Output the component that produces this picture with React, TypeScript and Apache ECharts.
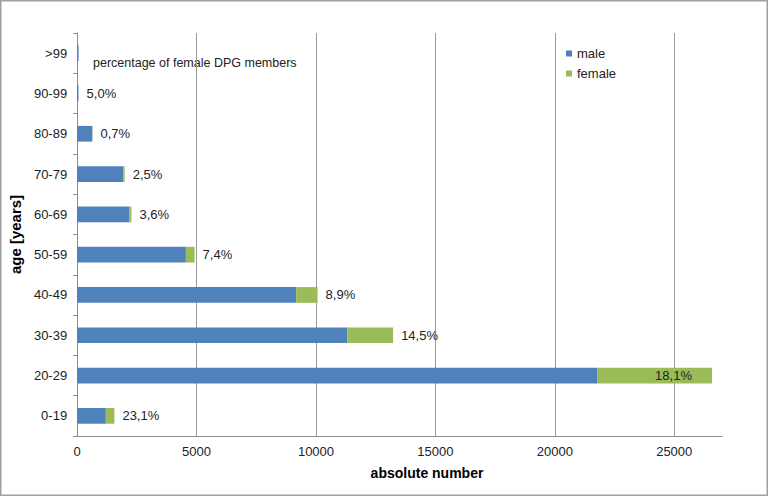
import React, { useEffect, useRef } from "react";
import * as echarts from "echarts";

const categories = ["0-19", "20-29", "30-39", "40-49", "50-59", "60-69", "70-79", "80-89", "90-99", ">99"];
const maleValues = [1200, 21770, 11310, 9170, 4553, 2190, 1940, 636, 57, 60];
const femaleValues = [360, 4810, 1920, 897, 364, 82, 50, 5, 3, 0];
const femalePct = ["23,1%", "18,1%", "14,5%", "8,9%", "7,4%", "3,6%", "2,5%", "0,7%", "5,0%", ""];
const xTicksMax = 27000;
const xInterval = 5000;
const seriesNames = ["male", "female"];
const annotation = "percentage of female DPG members";

const FONT = "Liberation Sans, Arial, sans-serif";

export default function App() {
  const ref = useRef<HTMLDivElement>(null);
  useEffect(() => {
    document.body.style.margin = "0";
    if (!ref.current) return;
    const chart = echarts.init(ref.current, undefined, { renderer: "svg" });
    const femaleData = femaleValues.map((v, i) =>
      i === 1
        ? { value: v, label: { position: "insideRight", distance: 20 } }
        : { value: v }
    );
    chart.setOption({
      animation: false,
      backgroundColor: "#ffffff",
      textStyle: { fontFamily: FONT },
      grid: { left: 75, top: 33, right: 46, bottom: 60, containLabel: false },
      legend: {
        orient: "vertical",
        left: 561,
        top: 42,
        itemWidth: 6,
        itemHeight: 6,
        itemGap: 7,
        icon: "rect",
        data: seriesNames,
        textStyle: { fontSize: 13, color: "#222", fontFamily: FONT },
      },
      xAxis: {
        type: "value",
        min: 0,
        max: xTicksMax,
        interval: xInterval,
        axisLine: { show: true, lineStyle: { color: "#8c8c8c", width: 1 } },
        axisTick: { show: false },
        axisLabel: {
          fontSize: 13,
          color: "#222",
          margin: 9,
          showMaxLabel: false,
          fontFamily: FONT,
          formatter: (v: number) => String(v),
        },
        splitLine: { show: true, showMinLine: false, showMaxLine: false, lineStyle: { color: "#9a9a9a", width: 1 } },
      },
      yAxis: {
        type: "category",
        data: categories,
        name: "age [years]",
        nameLocation: "middle",
        nameGap: 53,
        nameRotate: 90,
        nameTextStyle: { fontSize: 15, fontWeight: "bold", color: "#000", fontFamily: FONT },
        axisLine: { show: true, lineStyle: { color: "#8c8c8c", width: 1 } },
        axisTick: { show: true, length: 4, lineStyle: { color: "#8c8c8c" } },
        axisLabel: { fontSize: 13, color: "#222", margin: 10, fontFamily: FONT },
        splitLine: { show: false },
      },
      series: [
        {
          name: seriesNames[0],
          type: "bar",
          stack: "total",
          barWidth: "39%",
          itemStyle: { color: "#4f81bd" },
          data: maleValues,
        },
        {
          name: seriesNames[1],
          type: "bar",
          stack: "total",
          barWidth: "39%",
          itemStyle: { color: "#9bbb59" },
          label: {
            show: true,
            position: "right",
            distance: 8,
            fontSize: 13,
            color: "#222",
            fontFamily: FONT,
            formatter: (p: any) => femalePct[p.dataIndex],
          },
          data: femaleData,
        },
      ],
      graphic: [
        {
          type: "rect",
          silent: true,
          z: -1,
          shape: { x: 0.75, y: 0.75, width: 766.5, height: 494.5 },
          style: { fill: "none", stroke: "#a0a0a0", lineWidth: 1.5 },
        },
        {
          type: "text",
          x: 93,
          y: 63,
          style: {
            text: annotation,
            fontSize: 12.5,
            fill: "#222",
            fontFamily: FONT,
            verticalAlign: "middle",
            align: "left",
          },
        },
        {
          type: "text",
          x: 427,
          y: 473,
          style: {
            text: "absolute number",
            fontSize: 14,
            fontWeight: "bold",
            fill: "#000",
            fontFamily: FONT,
            verticalAlign: "middle",
            align: "center",
          },
        },
      ],
    });
    return () => chart.dispose();
  }, []);
  return <div ref={ref} style={{ width: 768, height: 496 }} />;
}
